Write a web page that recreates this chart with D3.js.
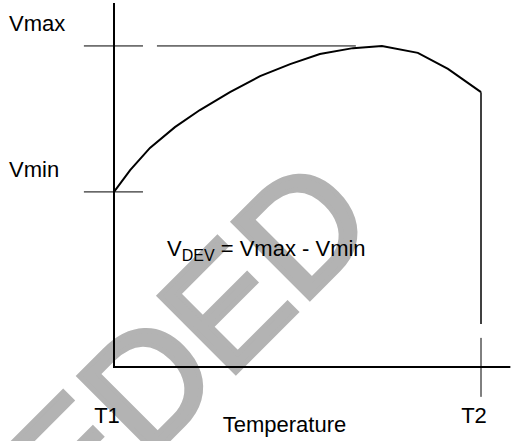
<!DOCTYPE html>
<html>
<head>
<meta charset="utf-8">
<script src="https://cdn.jsdelivr.net/npm/d3@7"></script>
<style>
  body { margin: 0; background: #fff; }
  svg { display: block; }
  text { font-family: "Liberation Sans", Arial, sans-serif; }
</style>
</head>
<body>
<div id="chart"></div>
<script>
// temperature from T1 (0) to T2 (10), voltage in arbitrary units
var tempLabels = ["T1", "T2"];
var tempValues = [0, 10];
var levelLabels = ["Vmax", "Vmin"];
var levelValues = [8.82, 4.81];
var curveTemp = [0, 0.44, 0.98, 1.66, 2.34, 3.16, 3.98, 4.80, 5.61, 6.51, 7.30, 8.28, 9.10, 10];
var curveVolt = [4.81, 5.41, 6.02, 6.59, 7.06, 7.55, 7.99, 8.32, 8.60, 8.76, 8.82, 8.63, 8.19, 7.55];

var width = 515, height = 441;

var svg = d3.select("#chart").append("svg")
    .attr("width", width)
    .attr("height", height);

var x = d3.scaleLinear().domain([0, 10]).range([114, 481]);
var y = d3.scaleLinear().domain([0, 10]).range([367, 3]);

// watermark
var wm = svg.append("g").attr("class", "watermark");
wm.append("text")
    .attr("transform", "translate(381,227) rotate(-45)")
    .attr("text-anchor", "end")
    .attr("font-size", 157)
    .attr("fill", "#b3b3b3")
    .attr("stroke", "#b3b3b3")
    .attr("stroke-width", 5)
    .text("SUPERSEDED");

// axes
svg.append("line")
    .attr("x1", x(0)).attr("x2", x(0))
    .attr("y1", y(10)).attr("y2", y(0) + 1)
    .attr("stroke", "#000").attr("stroke-width", 2);
svg.append("line")
    .attr("x1", x(0)).attr("x2", x(10.8))
    .attr("y1", y(0)).attr("y2", y(0))
    .attr("stroke", "#000").attr("stroke-width", 2);

// Vmax / Vmin marks
svg.selectAll(".level")
    .data(levelValues)
    .enter().append("line")
    .attr("class", "level")
    .attr("x1", x(-0.82)).attr("x2", x(0.79))
    .attr("y1", d => y(d)).attr("y2", d => y(d))
    .attr("stroke", "#000").attr("stroke-width", 1);
svg.append("line")
    .attr("x1", x(1.17)).attr("x2", x(6.59))
    .attr("y1", y(levelValues[0])).attr("y2", y(levelValues[0]))
    .attr("stroke", "#000").attr("stroke-width", 1);

svg.selectAll(".levelLabel")
    .data(levelLabels)
    .enter().append("text")
    .attr("x", 9)
    .attr("y", (d, i) => y(levelValues[i]) - 15)
    .attr("font-size", 22)
    .text(d => d);

// T2 marker
svg.append("line")
    .attr("x1", x(10)).attr("x2", x(10))
    .attr("y1", y(curveVolt[curveVolt.length - 1])).attr("y2", y(1.18))
    .attr("stroke", "#000").attr("stroke-width", 1.5);
svg.append("line")
    .attr("x1", x(10)).attr("x2", x(10))
    .attr("y1", y(0.8)).attr("y2", y(-0.82))
    .attr("stroke", "#000").attr("stroke-width", 1);

svg.selectAll(".tempLabel")
    .data(tempLabels)
    .enter().append("text")
    .attr("x", (d, i) => x(tempValues[i]) - 7)
    .attr("y", 423)
    .attr("text-anchor", "middle")
    .attr("font-size", 22)
    .text(d => d);

svg.append("text")
    .attr("x", 284.5).attr("y", 432)
    .attr("text-anchor", "middle")
    .attr("font-size", 22)
    .text("Temperature");

// curve
var pts = curveTemp.map((t, i) => [t, curveVolt[i]]);
svg.append("path")
    .datum(pts)
    .attr("fill", "none")
    .attr("stroke", "#000")
    .attr("stroke-width", 2)
    .attr("d", d3.line().x(d => x(d[0])).y(d => y(d[1])));

// formula
var f = svg.append("text")
    .attr("x", 167).attr("y", 256)
    .attr("font-size", 22);
f.append("tspan").text("V");
f.append("tspan").attr("font-size", 16).attr("dy", 5).text("DEV");
f.append("tspan").attr("dy", -5).text(" = Vmax - Vmin");
</script>
</body>
</html>
